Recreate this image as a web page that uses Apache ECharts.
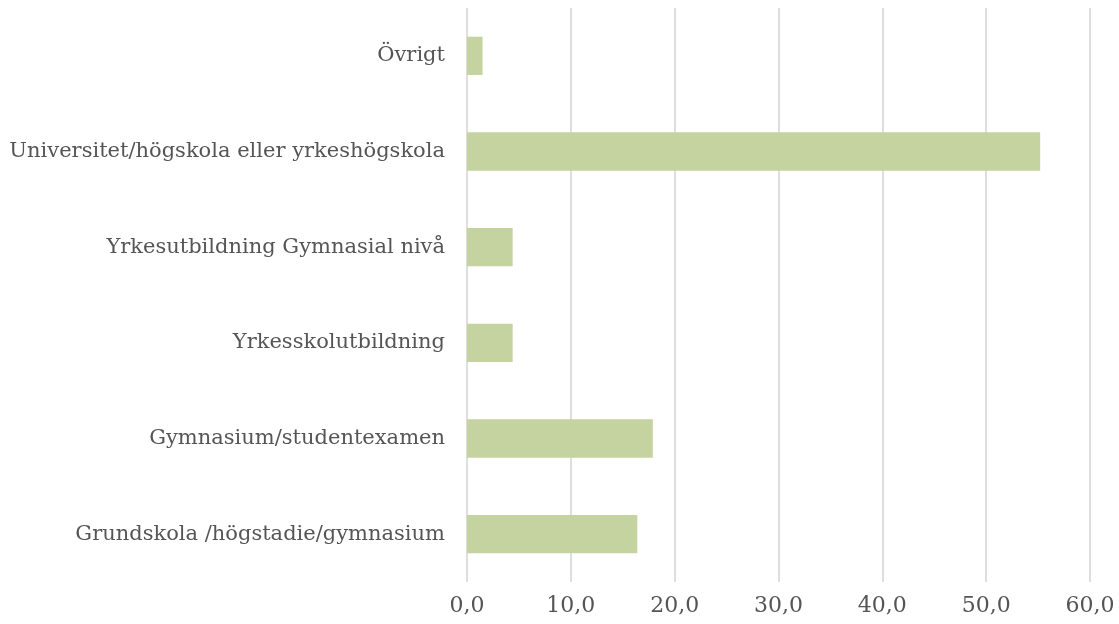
<!DOCTYPE html>
<html>
<head>
<meta charset="utf-8">
<script src="https://cdn.jsdelivr.net/npm/echarts@6/dist/echarts.min.js"></script>
<style>
  html, body { margin: 0; padding: 0; background: #fff; }
  #chart { width: 1119px; height: 624px; }
</style>
</head>
<body>
<div id="chart"></div>
<script>
// kategorier nedifrån och upp, som i diagrammet
const categories = [
  'Grundskola /högstadie/gymnasium',
  'Gymnasium/studentexamen',
  'Yrkesskolutbildning',
  'Yrkesutbildning Gymnasial nivå',
  'Universitet/högskola eller yrkeshögskola',
  'Övrigt'
]
const values = [16.4, 17.9, 4.4, 4.4, 55.2, 1.5]
const xTicks = [0, 10, 20, 30, 40, 50, 60]

const textColor = '#555555'
const fontFamily = 'DejaVu Serif'

const chart = echarts.init(document.getElementById('chart'))
chart.setOption({
  backgroundColor: '#ffffff',
  animation: false,
  grid: { left: 467, right: 29, top: 8, bottom: 42, containLabel: false },
  xAxis: {
    type: 'value',
    min: xTicks[0],
    max: xTicks[xTicks.length - 1],
    interval: 10,
    axisLine: { show: false },
    axisTick: { show: false },
    axisLabel: {
      color: textColor,
      fontFamily: fontFamily,
      fontSize: 22,
      margin: 13,
      formatter: v => v.toFixed(1).replace('.', ',')
    },
    splitLine: { lineStyle: { color: '#dedede', width: 2 } }
  },
  yAxis: {
    type: 'category',
    data: categories,
    axisLine: { show: false },
    axisTick: { show: false },
    axisLabel: {
      color: textColor,
      fontFamily: fontFamily,
      fontSize: 21,
      margin: 22
    }
  },
  series: [
    {
      type: 'bar',
      data: values,
      barWidth: '40%',
      itemStyle: { color: '#c5d3a0' }
    }
  ]
})
</script>
</body>
</html>
